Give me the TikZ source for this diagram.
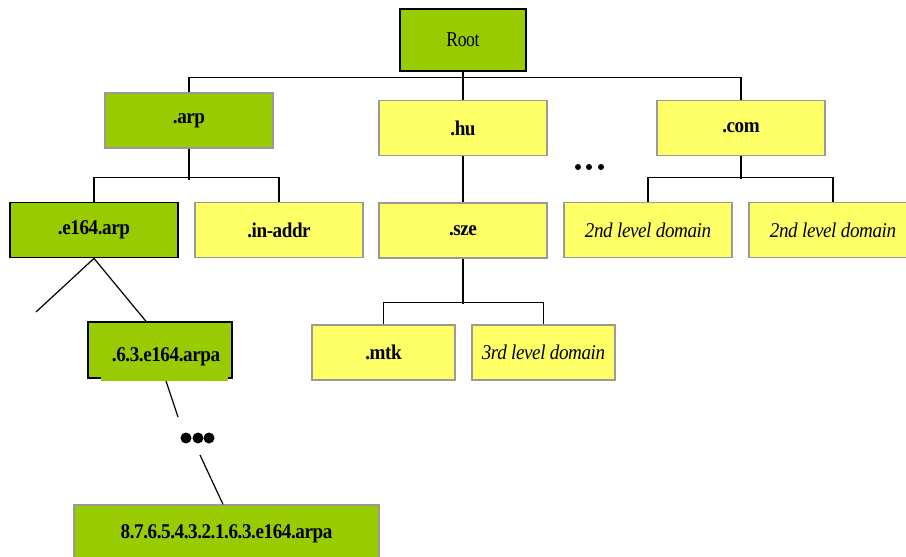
\documentclass[tikz,border=0pt]{standalone}
\usepackage{fontspec}
\setmainfont{Liberation Serif}
\newfontfamily\cond[FakeStretch=0.91,LetterSpace=-2]{Liberation Serif}
\newfontfamily\condr[FakeStretch=0.84,LetterSpace=-2]{Liberation Serif}
\begin{document}
\begin{tikzpicture}[x=1pt,y=-1pt,
  box/.style={draw=gray!80,line width=1.3pt,minimum width=168pt,minimum height=55pt,inner sep=0pt,font=\cond\fontsize{21}{24}\selectfont\bfseries},
  gbox/.style={box,fill=dnsgreen},
  ybox/.style={box,fill=dnsyellow},
  blk/.style={draw=black},
  ital/.style={font=\cond\fontsize{21}{24}\selectfont\itshape},
  conn/.style={line width=1.2pt}]
\definecolor{dnsgreen}{HTML}{99CC00}
\definecolor{dnsyellow}{HTML}{FFFF66}
\useasboundingbox (0,0) rectangle (906,557);
\begin{scope}
\clip (0,0) rectangle (906,557);
\node[gbox,blk,minimum width=126pt,minimum height=62pt,font=\condr\fontsize{21}{24}\selectfont] (root) at (463,40) {Root};
\node[gbox] (arp) at (189,120.5) {\raisebox{-3pt}{.arp}};
\node[ybox] (hu) at (463,128) {.hu};
\node[ybox] (com) at (741,128) {.com};
\node[gbox,blk,line width=1.8pt] (e164) at (94,230) {\raisebox{2pt}{.e164.arp}};
\node[ybox] (inaddr) at (279,230) {\raisebox{-2pt}{.in-addr}};
\node[ybox] (sze) at (463,230.5) {.sze};
\node[ybox,ital] (sld1) at (648,230) {2nd level domain};
\node[ybox,ital] (sld2) at (833,230) {2nd level domain};
\node[ybox,minimum width=143pt] (mtk) at (383.5,352.5) {.mtk};
\node[ybox,ital,minimum width=143pt] (tld) at (543.5,352.5) {3rd level domain};
\node[gbox,blk,minimum width=144pt,minimum height=56pt] (e163) at (160,350) {};
\fill[dnsgreen] (101,372) rectangle (228,381);
\node[font=\cond\fontsize{21}{24}\selectfont\bfseries] (e163t) at (166,357) {.6.3.e164.arpa};
\node[gbox,minimum width=305pt,minimum height=60pt] (full) at (226.5,535) {\raisebox{7pt}{8.7.6.5.4.3.2.1.6.3.e164.arpa}};
\end{scope}
% Root level
\draw[conn] (root.south) -- (hu.north);
\draw[conn] (arp.north) -- ++(0,-15) -| (com.north);
% .arp children
\draw[conn] (arp.south) -- ++(0,31);
\draw[conn] (e164.north) -- ++(0,-24) -| (inaddr.north);
% .hu
\draw[conn] (hu.south) -- (sze.north);
% .sze children
\draw[conn] (sze.south) -- ++(0,45);
\draw[conn] (mtk.north) -- ++(0,-22) -| (tld.north);
% .com children
\draw[conn] (com.south) -- ++(0,23);
\draw[conn] (sld1.north) -- ++(0,-24) -| (sld2.north);
% e164 branches
\coordinate (cl) at (36,312);
\draw[conn] (e164.south) -- (cl);
\draw[conn] (e164.south) -- (e163.north -| 146,0);
% dots
\coordinate (d1) at (178,417);
\coordinate (d2) at (200,455);
\draw[conn] (166,381) -- (d1);
\draw[conn] (d2) -- (full.north -| 223,0);
\foreach \x in {186,198,209} \fill (\x,438) circle (5.5);
\foreach \x in {578,589,601} \fill (\x,167) circle (3);
\end{tikzpicture}
\end{document}
